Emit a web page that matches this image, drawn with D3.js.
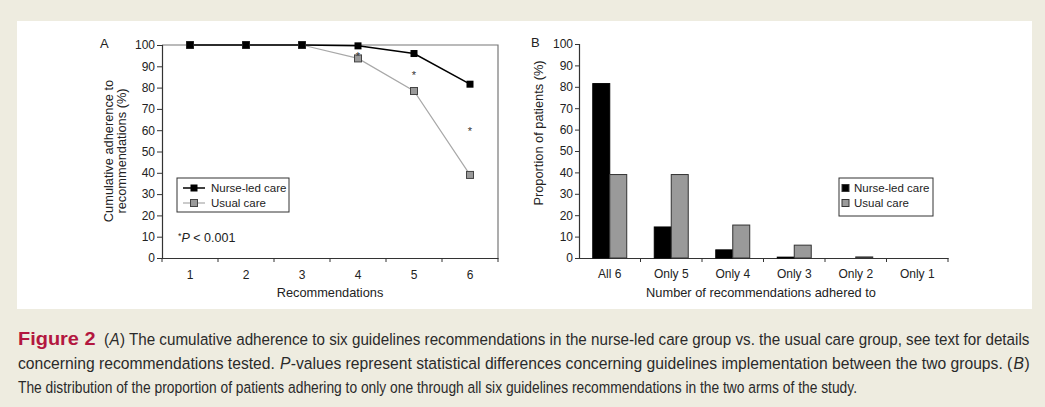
<!DOCTYPE html>
<html><head><meta charset="utf-8">
<script src="https://cdn.jsdelivr.net/npm/d3@7"></script>
<style>
html,body{margin:0;padding:0;background:#eeece0;}
svg{display:block;}
text{font-family:"Liberation Sans",Arial,sans-serif;fill:#222;}
</style></head>
<body>
<svg id="fig" width="1045" height="407"></svg>
<script>
// ---------- data ----------
const recommendations = ["1","2","3","4","5","6"];
const nurseCumulative = [100, 100, 100, 99.6, 96, 81.6];
const usualCumulative = [100, 100, 100, 93.7, 78.4, 39];
const sigCategories = ["4","5","6"];
const sigHeights = [96.5, 87.5, 61.5];
const yTicksA = [0,10,20,30,40,50,60,70,80,90,100];

const adherenceCats = ["All 6","Only 5","Only 4","Only 3","Only 2","Only 1"];
const nurseDist = [81.5, 14.5, 3.8, 0.4, 0, 0];
const usualDist = [39, 39, 15.4, 6, 0.5, 0];
const yTicksB = [0,10,20,30,40,50,60,70,80,90,100];
const seriesNames = ["Nurse-led care","Usual care"];

// caption pieces: [text, italic]
const captionLine1 = [["(", false], ["A", true], [") The cumulative adherence to six guidelines recommendations in the nurse-led care group vs. the usual care group, see text for details", false]];
const captionLine2 = [["concerning recommendations tested.\u00a0", false], ["P", true], ["-values represent statistical differences concerning guidelines implementation between the two groups. (", false], ["B", true], [")", false]];
const captionLine3 = [["The distribution of the proportion of patients adhering to only one through all six guidelines recommendations in the two arms of the study.", false]];
const figureLabel = "Figure 2";

// ---------- setup ----------
const svg = d3.select("#fig");
svg.append("rect").attr("x",17).attr("y",21).attr("width",1015).attr("height",288).attr("fill","#fff");

const blk = "#000", grayFill = "#9a9a9a", grayLine = "#a8a8a8", axisCol = "#333";
const tickFont = "12px", titleFont = "12.8px", legFont = "11.5px";

// ================= Panel A =================
const xA = d3.scaleBand().domain(recommendations).range([162, 498]);
const yA = d3.scaleLinear().domain([0, 100]).range([258, 45]);
const gA = svg.append("g");

gA.append("path").attr("d", `M${xA.range()[0]},${yA(100)}H${xA.range()[1]}V${yA(0)}`)
  .attr("fill","none").attr("stroke","#777").attr("stroke-width",1.2);

const yAxA = gA.append("g").attr("transform",`translate(${xA.range()[0]},0)`)
  .call(d3.axisLeft(yA).tickValues(yTicksA).tickSize(5).tickPadding(2));
const xAxA = gA.append("g").attr("transform",`translate(0,${yA(0)})`)
  .call(d3.axisBottom(xA).tickSize(0).tickPadding(12));
const boundsA = recommendations.map(d => xA(d)).concat([xA.range()[1]]);
gA.selectAll(".bt").data(boundsA).enter().append("line")
  .attr("x1", d=>d).attr("x2", d=>d).attr("y1", yA(0)).attr("y2", yA(0)+4)
  .attr("stroke", axisCol);
[yAxA, xAxA].forEach(a => {
  a.attr("font-size", tickFont);
  a.selectAll("path.domain").attr("stroke", axisCol).attr("stroke-width",1.2);
  a.selectAll("line").attr("stroke", axisCol);
  a.selectAll("text").attr("font-size",tickFont).attr("fill","#222").attr("font-family","Liberation Sans, Arial, sans-serif");
});

const cx = d => xA(d) + xA.bandwidth()/2;
const lineGen = (vals) => d3.line().x((d,i)=>cx(recommendations[i])).y(d=>yA(d))(vals);
gA.append("path").attr("d", lineGen(usualCumulative)).attr("fill","none").attr("stroke",grayLine).attr("stroke-width",1.2);
gA.append("path").attr("d", lineGen(nurseCumulative)).attr("fill","none").attr("stroke",blk).attr("stroke-width",1.5);
const ms = 7;
gA.selectAll(".mu").data(usualCumulative).enter().append("rect")
  .attr("x",(d,i)=>cx(recommendations[i])-ms/2).attr("y",d=>yA(d)-ms/2)
  .attr("width",ms).attr("height",ms).attr("fill",grayFill).attr("stroke","#444").attr("stroke-width",1);
gA.selectAll(".mn").data(nurseCumulative).enter().append("rect")
  .attr("x",(d,i)=>cx(recommendations[i])-ms/2).attr("y",d=>yA(d)-ms/2)
  .attr("width",ms).attr("height",ms).attr("fill",blk);
gA.selectAll(".ast").data(sigHeights).enter().append("text")
  .attr("x",(d,i)=>cx(sigCategories[i])).attr("y",d=>yA(d)+7.5)
  .attr("text-anchor","middle").attr("font-size","11px").style("fill","#333").text("*");

// legend A
const lgA = gA.append("g");
lgA.append("rect").attr("x",177).attr("y",178).attr("width",112).attr("height",34)
  .attr("fill","#fff").attr("stroke","#333").attr("stroke-width",1);
[[blk, blk, 1.5, null], [grayLine, grayFill, 1.2, "#444"]].forEach((s,i)=>{
  const yy = 188 + i*15;
  lgA.append("line").attr("x1",183).attr("x2",205).attr("y1",yy).attr("y2",yy).attr("stroke",s[0]).attr("stroke-width",s[2]);
  lgA.append("rect").attr("x",194-3.5).attr("y",yy-3.5).attr("width",7).attr("height",7).attr("fill",s[1])
    .attr("stroke", s[3] || "none");
  lgA.append("text").attr("x",211).attr("y",yy+4).attr("font-size",legFont).text(seriesNames[i]);
});
const pt = gA.append("text").attr("x",178).attr("y",242).attr("font-size","12.5px");
pt.append("tspan").attr("font-size","9px").attr("dy","-3").text("*");
pt.append("tspan").attr("font-style","italic").attr("dy","3").text("P");
pt.append("tspan").text(" < 0.001");

gA.append("text").attr("x",100).attr("y",48).attr("font-size","13px").text("A");
gA.append("text").attr("x",330).attr("y",297).attr("text-anchor","middle").attr("font-size",titleFont).text("Recommendations");
const ytA = gA.append("text").attr("transform","translate(113,151) rotate(-90)").attr("text-anchor","middle").attr("font-size",titleFont);
ytA.append("tspan").attr("x",0).attr("y",0).text("Cumulative adherence to");
ytA.append("tspan").attr("x",0).attr("y",13).text("recommendations (%)");

// ================= Panel B =================
const xB = d3.scaleBand().domain(adherenceCats).range([579, 948]);
const xInner = d3.scaleBand().domain(seriesNames).range([0, xB.bandwidth()]).paddingOuter(0.81);
const yB = d3.scaleLinear().domain([0,100]).range([258, 44]);
const gB = svg.append("g");

const yAxB = gB.append("g").attr("transform",`translate(${xB.range()[0]},0)`)
  .call(d3.axisLeft(yB).tickValues(yTicksB).tickSize(4).tickPadding(2));
const xAxB = gB.append("g").attr("transform",`translate(0,${yB(0)})`)
  .call(d3.axisBottom(xB).tickSize(0).tickPadding(11));
const boundsB = adherenceCats.map(d => xB(d)).concat([xB.range()[1]]);
gB.selectAll(".bt").data(boundsB.slice(1)).enter().append("line")
  .attr("x1", d=>d).attr("x2", d=>d).attr("y1", yB(0)).attr("y2", yB(0)+4)
  .attr("stroke", axisCol);
[yAxB, xAxB].forEach(a => {
  a.attr("font-size", tickFont);
  a.selectAll("path.domain").attr("stroke", axisCol).attr("stroke-width",1.2);
  a.selectAll("line").attr("stroke", axisCol);
  a.selectAll("text").attr("font-size",tickFont).attr("fill","#222").attr("font-family","Liberation Sans, Arial, sans-serif");
});

const barData = [];
adherenceCats.forEach((c,i)=>{
  barData.push({cat:c, s:seriesNames[0], v:nurseDist[i]});
  barData.push({cat:c, s:seriesNames[1], v:usualDist[i]});
});
gB.selectAll(".bar").data(barData.filter(d=>d.v>0)).enter().append("rect")
  .attr("x", d=>xB(d.cat)+xInner(d.s)).attr("width", xInner.bandwidth())
  .attr("y", d=>yB(d.v)).attr("height", d=>yB(0)-yB(d.v))
  .attr("fill", d=> d.s===seriesNames[0] ? blk : grayFill)
  .attr("stroke", d=> d.s===seriesNames[0] ? blk : "#333").attr("stroke-width",1);

// legend B
const lgB = gB.append("g");
lgB.append("rect").attr("x",839).attr("y",178).attr("width",94).attr("height",38)
  .attr("fill","#fff").attr("stroke","#333").attr("stroke-width",1);
[blk, grayFill].forEach((c,i)=>{
  const yy = 188 + i*15;
  lgB.append("rect").attr("x",842).attr("y",yy-3.5).attr("width",7).attr("height",7).attr("fill",c).attr("stroke","#333");
  lgB.append("text").attr("x",854).attr("y",yy+4).attr("font-size",legFont).text(seriesNames[i]);
});

gB.append("text").attr("x",531).attr("y",47).attr("font-size","13px").text("B");
gB.append("text").attr("x",761).attr("y",297).attr("text-anchor","middle").attr("font-size",titleFont).text("Number of recommendations adhered to");
gB.append("text").attr("transform","translate(543,133) rotate(-90)").attr("text-anchor","middle").attr("font-size",titleFont).text("Proportion of patients (%)");

// ================= Caption =================
const capFont = "Lato, 'Open Sans', sans-serif";
const baseSize = 16.5;

function fitGroup(pieces, x0, x1, y, size, weight, color) {
  const g = svg.append("g");
  let x = 0;
  pieces.forEach(p => {
    const t = g.append("text").attr("x", x).attr("y", 0).attr("font-family", capFont)
      .attr("font-size", size).attr("font-weight", weight).attr("font-style", p[1] ? "italic" : "normal")
      .style("fill", color).style("white-space","pre").text(p[0]);
    x += t.node().getComputedTextLength() + 0.4;
  });
  const k = (x1 - x0) / x;
  g.attr("transform", `translate(${x0},${y}) scale(${k},1)`);
}
fitGroup([[figureLabel,false]], 18, 96, 345, 18, "bold", "#b3173f");
fitGroup(captionLine1, 104, 1030, 345, baseSize, "normal", "#2a2a2a");
fitGroup(captionLine2, 18, 1030, 369, baseSize, "normal", "#2a2a2a");
fitGroup(captionLine3, 18, 858, 393, baseSize, "normal", "#2a2a2a");
</script>
</body></html>
